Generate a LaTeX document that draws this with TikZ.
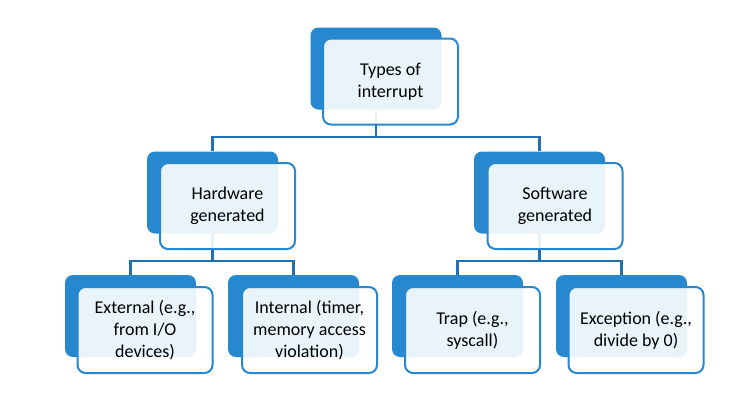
\documentclass[tikz,border=0pt]{standalone}
\usepackage{fontspec}
\setmainfont{Carlito}
\begin{document}
\definecolor{boxblue}{HTML}{2787CF}
\definecolor{lineblue}{HTML}{2170B2}
\tikzset{
  backbox/.style={fill=boxblue, draw=none, rounded corners=8pt, minimum width=131pt, minimum height=82pt, inner sep=0pt},
  frontbox/.style={fill=white, fill opacity=0.9, text opacity=1, draw=boxblue, line width=2pt, rounded corners=8pt, minimum width=135pt, minimum height=86pt, inner sep=0pt, align=center, font=\fontsize{18}{22}\selectfont, text=black},
  conn/.style={draw=lineblue, line width=2.5pt}
}
\begin{tikzpicture}[x=1pt,y=-1pt]
\useasboundingbox (0,0) rectangle (755,402);
% back boxes
\node[backbox] (tb) at (376,68.5) {};
\node[backbox] (hb) at (212.5,192.5) {};
\node[backbox] (sb) at (539.5,192.5) {};
\node[backbox] (eb) at (130.5,316) {};
\node[backbox] (ib) at (293.5,316) {};
\node[backbox] (rb) at (457.5,316) {};
\node[backbox] (xb) at (621.5,316) {};
% connectors
\draw[conn] (tb.south) -- (tb.south |- 0,137) -| (hb.north);
\draw[conn] (tb.south |- 0,137) -| (sb.north);
\draw[conn] (hb.south) -- (hb.south |- 0,261) -| (eb.north);
\draw[conn] (hb.south |- 0,261) -| (ib.north);
\draw[conn] (sb.south) -- (sb.south |- 0,261) -| (rb.north);
\draw[conn] (sb.south |- 0,261) -| (xb.north);
% front boxes
\node[frontbox] (t) at (390.5,81.5) {Types of\\interrupt};
\node[frontbox] (h) at (227.5,206) {Hardware\\generated};
\node[frontbox] (s) at (555,206) {Software\\generated};
\node[frontbox] (e) at (145,330) {External (e.g.,\\from I/O\\devices)};
\node[frontbox] (i) at (309.5,330) {Internal (timer,\\memory access\\violation)};
\node[frontbox] (r) at (472.5,330) {Trap (e.g.,\\syscall)};
\node[frontbox] (x) at (636,330) {Exception (e.g.,\\divide by 0)};
\end{tikzpicture}
\end{document}
